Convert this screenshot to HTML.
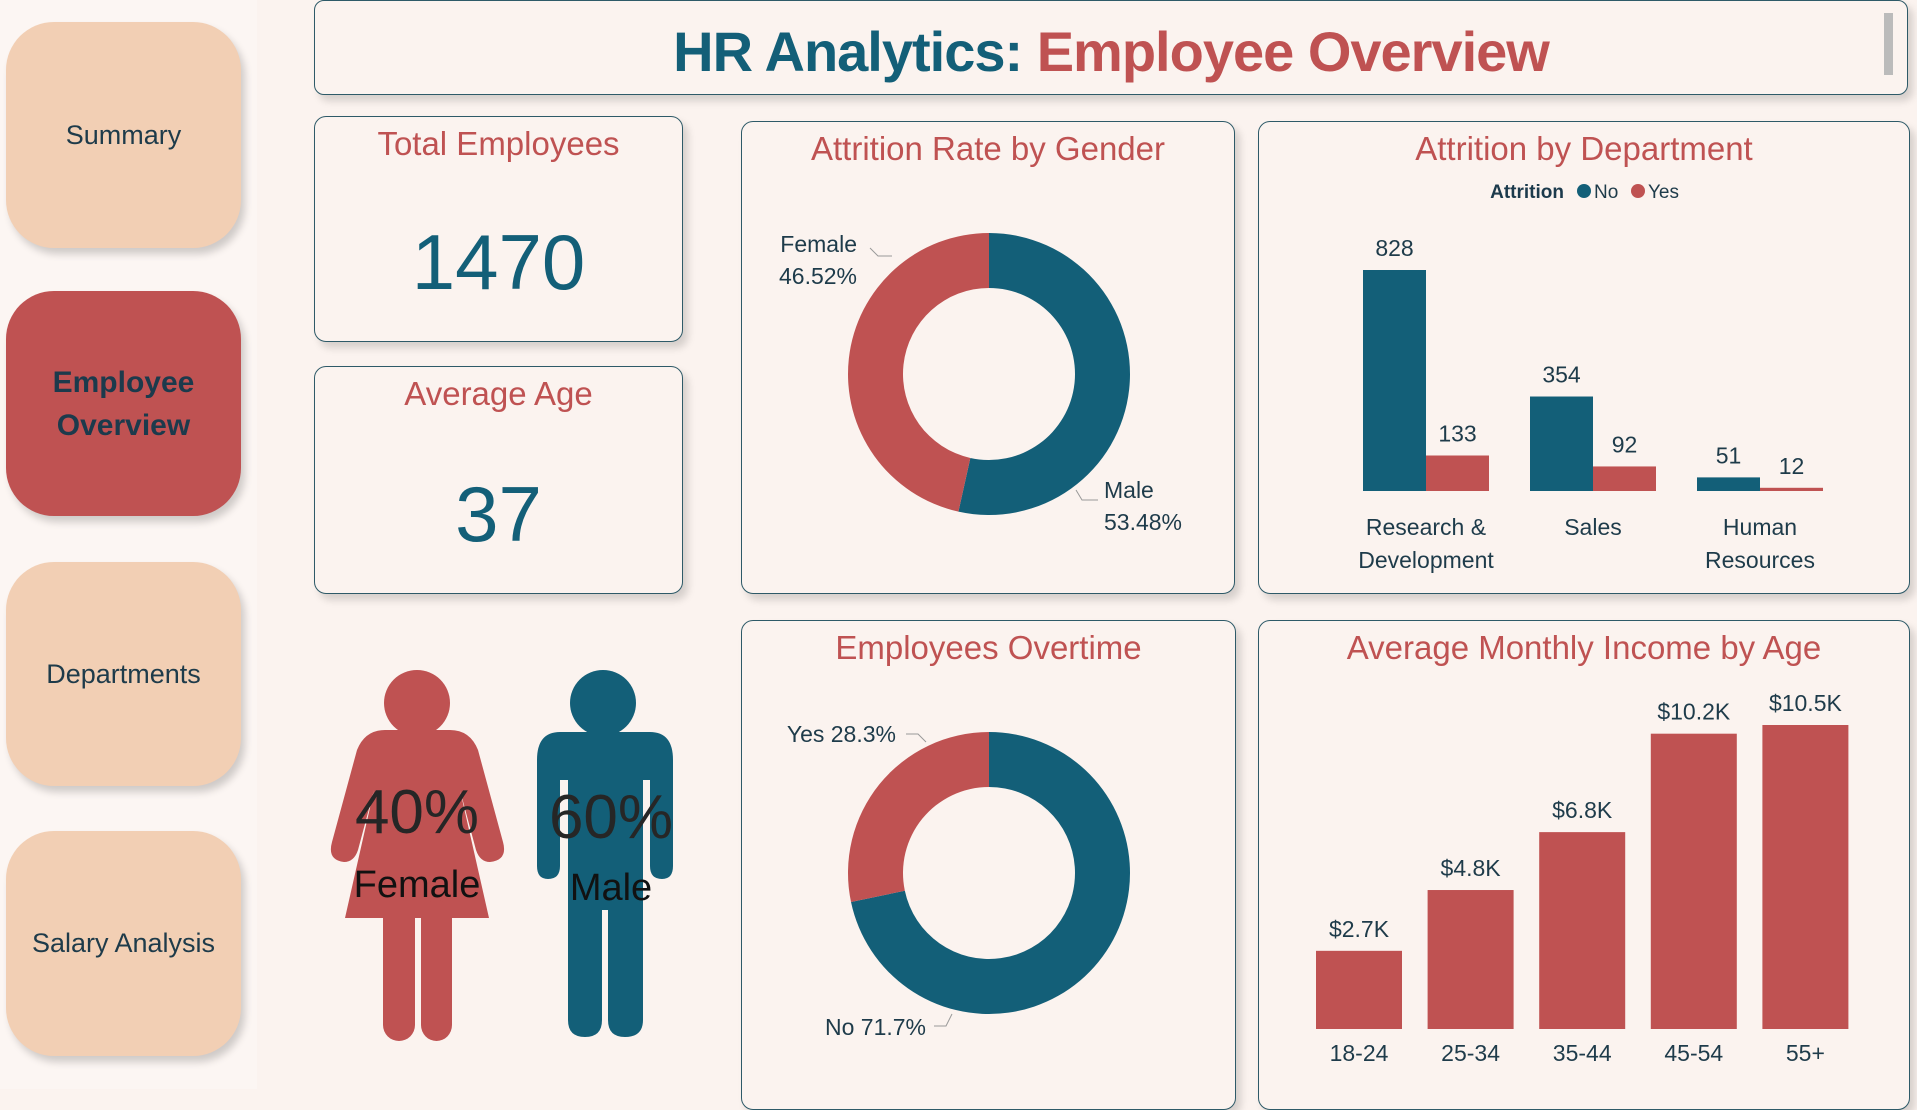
<!DOCTYPE html>
<html><head><meta charset="utf-8">
<style>
*{box-sizing:border-box;margin:0;padding:0}
body{width:1917px;height:1089px;background:#fbf3ef;font-family:"Liberation Sans",sans-serif;position:relative;overflow:hidden}
.nav{position:absolute;left:6px;width:235px;background:#f2cfb4;border-radius:48px;box-shadow:4px 6px 8px rgba(0,0,0,.18);display:flex;align-items:center;justify-content:center;text-align:center;font-size:27px;color:#1e3b4a}
.nav.active{background:#bf5252;color:#1c3a4c;font-weight:bold;font-size:30px;line-height:43px}
.card{position:absolute;background:#fbf3ef;border:1.5px solid #2e5a68;border-radius:12px;box-shadow:5px 6px 8px rgba(0,0,0,.15)}
.ct{position:absolute;left:0;right:0;text-align:center;color:#bf5252;font-size:33px}
svg text{font-family:"Liberation Sans",sans-serif}
</style></head><body>
<div style="position:absolute;left:0;top:0;width:257px;height:1089px;background:#fcf6f3"></div>
<div class="nav" style="top:22px;height:226px">Summary</div>
<div class="nav active" style="top:291px;height:225px">Employee<br>Overview</div>
<div class="nav" style="top:562px;height:224px">Departments</div>
<div class="nav" style="top:831px;height:225px">Salary Analysis</div>

<div class="card" style="left:314px;top:0;width:1594px;height:95px;border-radius:10px">
<div style="position:absolute;left:0;right:0;top:18px;text-align:center;font-size:56px;font-weight:bold;color:#135f78;letter-spacing:-1px"><span>HR Analytics: </span><span style="color:#bf5252">Employee Overview</span></div>
<div style="position:absolute;right:14px;top:12px;width:9px;height:62px;background:#bbb"></div>
</div>

<div class="card" style="left:314px;top:116px;width:369px;height:226px">
<div class="ct" style="top:8px">Total Employees</div>
<div style="position:absolute;left:0;right:0;top:100px;text-align:center;font-size:78px;color:#135f78">1470</div>
</div>
<div class="card" style="left:314px;top:366px;width:369px;height:228px">
<div class="ct" style="top:8px">Average Age</div>
<div style="position:absolute;left:0;right:0;top:102px;text-align:center;font-size:78px;color:#135f78">37</div>
</div>

<svg style="position:absolute;left:0;top:0" width="1917" height="1089">
<g fill="#bf5252">
<circle cx="417" cy="703" r="33"/>
<path d="M385 730 H450 Q470 730 478 750 L503 842 Q508 860 490 862 Q480 862 476 850 L460 790 L489 918 H345 L374 790 L358 850 Q354 862 344 862 Q327 860 332 842 L357 750 Q365 730 385 730Z"/>
<rect x="383" y="900" width="32" height="141" rx="16"/><rect x="421" y="900" width="31" height="141" rx="16"/>
</g>
<g fill="#135f78">
<circle cx="603" cy="703" r="33"/>
<path d="M560 732 H650 Q673 732 673 760 V866 Q673 879 662 879 Q650 879 650 866 V780 H643 V1020 Q643 1037 625 1037 Q608 1037 608 1020 V910 H602 V1020 Q602 1037 585 1037 Q568 1037 568 1020 V780 H560 V866 Q560 879 548 879 Q537 879 537 866 V760 Q537 732 560 732Z"/>
</g>
<text x="417" y="833" text-anchor="middle" font-size="62" fill="#262626">40%</text>
<text x="417" y="897" text-anchor="middle" font-size="38" fill="#111">Female</text>
<text x="611" y="838" text-anchor="middle" font-size="62" fill="#262626">60%</text>
<text x="611" y="900" text-anchor="middle" font-size="38" fill="#111">Male</text>
</svg>

<div class="card" style="left:741px;top:121px;width:494px;height:473px">
<div class="ct" style="top:8px">Attrition Rate by Gender</div></div>
<div class="card" style="left:1258px;top:121px;width:652px;height:473px">
<div class="ct" style="top:8px">Attrition by Department</div></div>
<div class="card" style="left:741px;top:620px;width:495px;height:490px">
<div class="ct" style="top:8px">Employees Overtime</div></div>
<div class="card" style="left:1258px;top:620px;width:652px;height:490px">
<div class="ct" style="top:8px">Average Monthly Income by Age</div></div>

<svg id="charts" style="position:absolute;left:0;top:0" width="1917" height="1089"></svg>

<script>
const genderLabels=["Male","Female"];
const genderValues=[53.48,46.52];
const overtimeLabels=["No","Yes"];
const overtimeValues=[71.7,28.3];
const deptCategories=["Research & Development","Sales","Human Resources"];
const deptNo=[828,354,51];
const deptYes=[133,92,12];
const ageCategories=["18-24","25-34","35-44","45-54","55+"];
const ageIncome=[2.7,4.8,6.8,10.2,10.5];
const ageLabels=["$2.7K","$4.8K","$6.8K","$10.2K","$10.5K"];

const NS="http://www.w3.org/2000/svg";
const svg=document.getElementById('charts');
function mk(tag,attrs,parent){const e=document.createElementNS(NS,tag);for(const k in attrs)e.setAttribute(k,attrs[k]);(parent||svg).appendChild(e);return e;}
function txt(x,y,s,size,fill,anchor,parent){const t=mk('text',{x:x,y:y,'font-size':size,fill:fill,'text-anchor':anchor||'middle'},parent);t.textContent=s;return t;}
const TEAL="#135f78",RED="#bf5252";

function donut(cx,cy,R,r,values,colors,name){
  const total=values.reduce((a,b)=>a+b,0);let a0=-Math.PI/2;
  values.forEach((v,i)=>{
    const a1=a0+v/total*2*Math.PI;const lg=(a1-a0)>Math.PI?1:0;
    const p=(rad,a)=>[cx+rad*Math.cos(a),cy+rad*Math.sin(a)];
    const [x1,y1]=p(R,a0),[x2,y2]=p(R,a1),[x3,y3]=p(r,a1),[x4,y4]=p(r,a0);
    const path=mk('path',{d:`M${x1} ${y1}A${R} ${R} 0 ${lg} 1 ${x2} ${y2}L${x3} ${y3}A${r} ${r} 0 ${lg} 0 ${x4} ${y4}Z`,fill:colors[i]});
    
    
    a0=a1;
  });
}
donut(989,374,141,86,genderValues,[TEAL,RED],'gender');
mk('polyline',{points:"1076,490 1082,500 1098,500",fill:"none",stroke:"#999"});
mk('polyline',{points:"892,256 878,256 870,248",fill:"none",stroke:"#999"});
let t=txt(1104,498,genderLabels[0],23,"#1e3b4a","start");
t=txt(1104,530,genderValues[0].toFixed(2)+"%",23,"#1e3b4a","start");
t=txt(857,252,genderLabels[1],23,"#1e3b4a","end");
t=txt(857,284,genderValues[1].toFixed(2)+"%",23,"#1e3b4a","end");

donut(989,873,141,86,overtimeValues,[TEAL,RED],'overtime');
mk('polyline',{points:"906,734 918,734 926,742",fill:"none",stroke:"#999"});
mk('polyline',{points:"934,1026 946,1026 952,1014",fill:"none",stroke:"#999"});
t=txt(896,742,overtimeLabels[1]+" "+overtimeValues[1]+"%",23,"#1e3b4a","end");
t=txt(926,1035,overtimeLabels[0]+" "+overtimeValues[0]+"%",23,"#1e3b4a","end");

// legend
t=txt(1564,198,"Attrition",19,"#1c3a4c","end");t.setAttribute('font-weight','bold');
let c=mk('circle',{cx:1584,cy:191,r:7,fill:TEAL});
t=txt(1594,198,"No",19,"#1e3b4a","start");
c=mk('circle',{cx:1638,cy:191,r:7,fill:RED});
t=txt(1648,198,"Yes",19,"#1e3b4a","start");

// dept bars
const dBase=491,dMaxH=221,dMax=828,d0=1363,dPitch=167,dW=63;
const dy=v=>v/dMax*dMaxH;
const deptLines=[["Research &","Development"],["Sales"],["Human","Resources"]];
deptCategories.forEach((cat,i)=>{
  const x=d0+i*dPitch;
  let b=mk('rect',{x:x,y:dBase-dy(deptNo[i]),width:dW,height:dy(deptNo[i]),fill:TEAL});
  
  
  b=mk('rect',{x:x+dW,y:dBase-Math.max(dy(deptYes[i]),2),width:dW,height:Math.max(dy(deptYes[i]),2),fill:RED});
  
  
  let l=txt(x+dW/2,dBase-dy(deptNo[i])-14,String(deptNo[i]),23,"#1e3b4a");
  
  
  l=txt(x+dW*1.5,dBase-dy(deptYes[i])-14,String(deptYes[i]),23,"#1e3b4a");
  
  
  deptLines[i].forEach((s,j)=>{l=txt(x+dW,535+j*33,s,23,"#1e3b4a");
    
    });
});

// income bars
const iBase=1029,iMaxH=304,iMax=10.5,i0=1316,iPitch=111.6,iW=86;
const iy=v=>v/iMax*iMaxH;
ageCategories.forEach((cat,i)=>{
  const x=i0+i*iPitch;
  const b=mk('rect',{x:x,y:iBase-iy(ageIncome[i]),width:iW,height:iy(ageIncome[i]),fill:RED});
  
  
  let l=txt(x+iW/2,iBase-iy(ageIncome[i])-14,ageLabels[i],23,"#1e3b4a");
  
  
  l=txt(x+iW/2,1061,cat,23,"#1e3b4a");
  
  
});
</script>
</body></html>
